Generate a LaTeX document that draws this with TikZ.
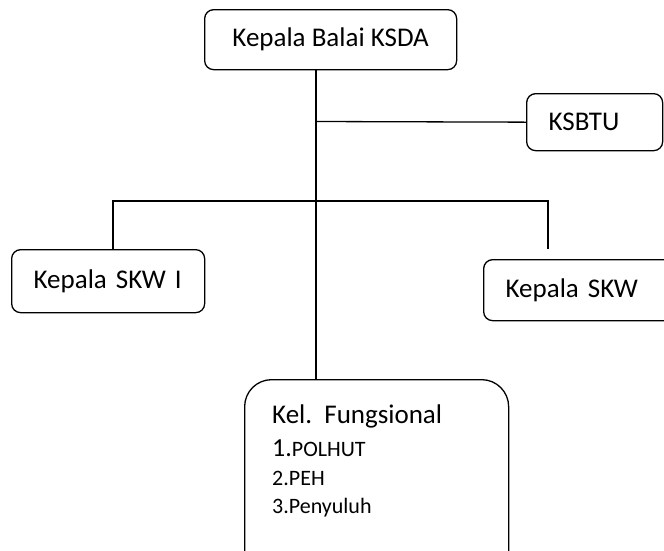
\documentclass[tikz,border=0pt]{standalone}
\usepackage{fontspec}
\setmainfont{Carlito}
\begin{document}
\begin{tikzpicture}[x=1pt,y=-1pt,
  box/.style={draw, line width=1.3pt, rounded corners=9pt, anchor=north west, inner sep=0pt,
              font=\fontsize{27}{30}\selectfont},
  ln/.style={line width=1.3pt},
  big/.style={anchor=base west, inner sep=0pt, font=\fontsize{27}{30}\selectfont},
  small/.style={anchor=base west, inner sep=0pt, font=\fontsize{22}{24}\selectfont}]
\useasboundingbox (0,0) rectangle (664,550);
% boxes
\node[box, minimum width=252pt, minimum height=60pt] (top) at (204,9) {Kepala Balai KSDA};
\node[box, minimum width=136pt, minimum height=57pt, text width=92pt, align=left] (ksbtu) at (526,93) {KSBTU};
\node[box, minimum width=193pt, minimum height=63pt, text width=149pt, align=left] (skw1) at (11,249) {Kepala SKW I};
\node[box, minimum width=193pt, minimum height=61pt, text width=149pt, align=left] (skw2) at (483,259) {Kepala SKW};
\node[box, rounded corners=27pt, minimum width=264pt, minimum height=200pt] (fk) at (244,379) {};
% texts in the functional group box
\node[big] (fk1) at (272,423) {Kel.\ \ Fungsional};
\node[small] (fk2) at (272,456) {{\fontsize{26}{28}\selectfont 1.}POLHUT};
\node[small] (fk3) at (272,485) {2.PEH};
\node[small] (fk4) at (272,513) {3.Penyuluh};
% junctions
\coordinate (j1) at (316,121.5);
\coordinate (bl) at (113,201);
\coordinate (br) at (548,201);
\coordinate (brend) at (548,249);
% connectors
\draw[ln] (top.south -| j1) -- (fk.north -| j1);
\draw[ln] (j1) -- (ksbtu.west);
\draw[ln] (skw1.north -| bl) -- (bl) -- (br) -- (brend);
\end{tikzpicture}
\end{document}
